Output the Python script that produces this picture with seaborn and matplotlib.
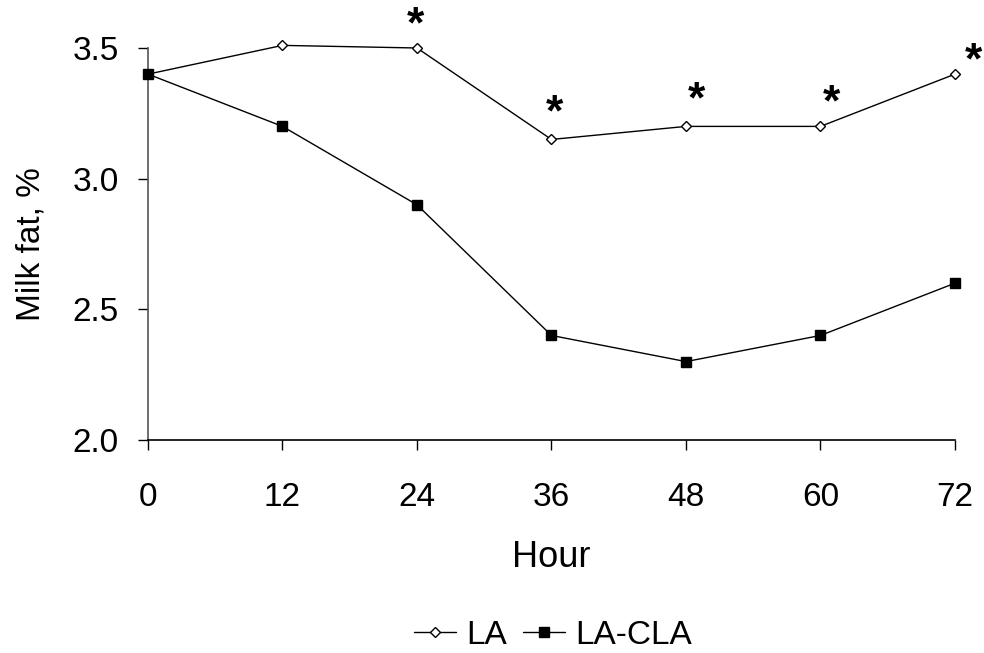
import matplotlib
matplotlib.use("Agg")
import matplotlib.pyplot as plt
import seaborn as sns
import pandas as pd

# Milk fat by hour for the two infusion treatments
hours = [0, 12, 24, 36, 48, 60, 72]
la_fat = [3.40, 3.51, 3.50, 3.15, 3.20, 3.20, 3.40]
la_cla_fat = [3.40, 3.20, 2.90, 2.40, 2.30, 2.40, 2.60]
series_names = ["LA", "LA-CLA"]
x_ticks = [0, 12, 24, 36, 48, 60, 72]
y_ticks = [2.0, 2.5, 3.0, 3.5]
y_tick_labels = ["2.0", "2.5", "3.0", "3.5"]
# hours where the treatments differ significantly
signif_hours = [24, 36, 48, 60, 72]

sns.set_theme(style="white")
plt.rcParams["font.family"] = ["Liberation Sans", "DejaVu Sans"]
plt.rcParams["text.color"] = "black"
plt.rcParams["axes.labelcolor"] = "black"
plt.rcParams["xtick.color"] = "black"
plt.rcParams["ytick.color"] = "black"

fig = plt.figure(figsize=(9.84, 6.53), dpi=100)
ax = fig.add_axes([0.1504, 0.3262, 0.8201, 0.6003])

df = pd.DataFrame({
    "Hour": hours * 2,
    "Fat": la_fat + la_cla_fat,
    "Treatment": [series_names[0]] * len(hours) + [series_names[1]] * len(hours),
})

sns.lineplot(data=df[df.Treatment == "LA"], x="Hour", y="Fat", ax=ax,
             color="black", linewidth=1.0, marker="D", markersize=5.5,
             markerfacecolor="white", markeredgecolor="black",
             markeredgewidth=1.0, label="LA", clip_on=False, zorder=3)
sns.lineplot(data=df[df.Treatment == "LA-CLA"], x="Hour", y="Fat", ax=ax,
             color="black", linewidth=1.0, marker="s", markersize=7.5,
             markerfacecolor="black", markeredgecolor="black",
             markeredgewidth=1.0, label="LA-CLA", clip_on=False, zorder=3)

# significance asterisks above the LA series
star_offsets = {24: (-2, 11), 36: (3, 14), 48: (10, 14), 60: (11, 11), 72: (18, 1)}
la_lookup = dict(zip(hours, la_fat))
for h in signif_hours:
    dx, dy = star_offsets[h]
    ax.annotate("*", xy=(h, la_lookup[h]), xytext=(dx, dy),
                textcoords="offset pixels", ha="center", va="baseline",
                fontsize=32, fontweight="bold", color="black",
                annotation_clip=False)

ax.set_xlim(0, 72)
ax.set_ylim(2.0, 3.5)
ax.set_xticks(x_ticks)
ax.set_yticks(y_ticks)
ax.set_yticklabels(y_tick_labels)
ax.set_xlabel("Hour", fontsize=26, labelpad=20)
ax.set_ylabel("Milk fat, %", fontsize=24, labelpad=19)

for s in ["top", "right"]:
    ax.spines[s].set_visible(False)
ax.spines["left"].set_color("#555555")
ax.spines["left"].set_linewidth(1.2)
ax.spines["bottom"].set_color("black")
ax.spines["bottom"].set_linewidth(1.2)

ax.tick_params(axis="x", direction="out", length=7, width=1.0, color="black",
               labelsize=24, pad=23, bottom=True)
ax.tick_params(axis="y", direction="out", length=7, width=1.0, color="black",
               labelsize=24, pad=14, left=True)
ax.grid(False)

handles, labels = ax.get_legend_handles_labels()
ax.get_legend().remove()
fig.legend(handles, labels, loc="center", bbox_to_anchor=(0.562, 0.027),
           ncol=2, frameon=False, fontsize=24, handlelength=1.25,
           handletextpad=0.3, columnspacing=0.5)

fig.savefig("out.png", dpi=100, facecolor="white")
